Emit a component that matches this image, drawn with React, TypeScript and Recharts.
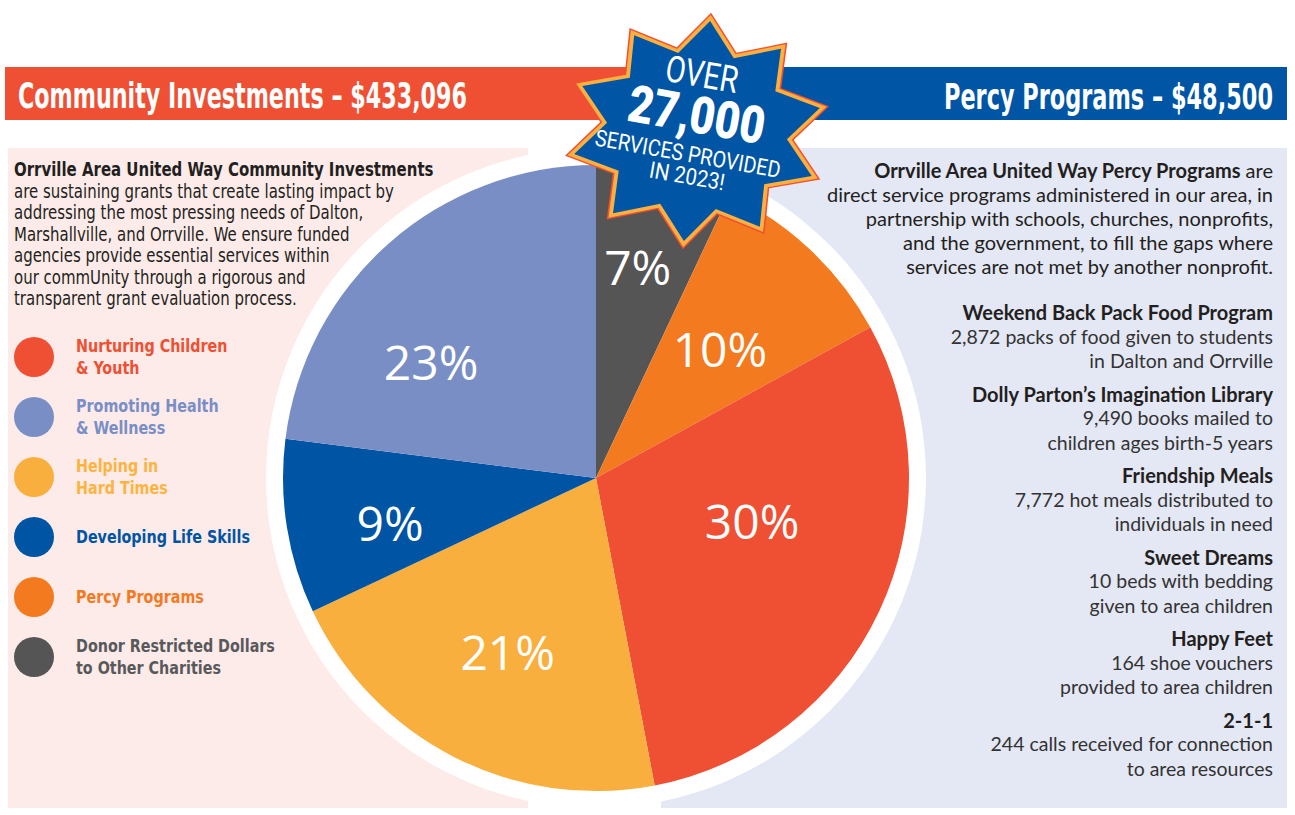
import { PieChart, Pie, Cell, Legend } from 'recharts'

// pie order, clockwise from 12 o'clock
const CATEGORIES = [
  'Donor Restricted Dollars to Other Charities',
  'Percy Programs',
  'Nurturing Children & Youth',
  'Helping in Hard Times',
  'Developing Life Skills',
  'Promoting Health & Wellness',
]
const SHARES = [7, 10, 30, 21, 9, 23]

const LEGEND_ORDER = [
  'Nurturing Children & Youth',
  'Promoting Health & Wellness',
  'Helping in Hard Times',
  'Developing Life Skills',
  'Percy Programs',
  'Donor Restricted Dollars to Other Charities',
]
const LEGEND_LINES: Record<string, string[]> = {
  'Nurturing Children & Youth': ['Nurturing Children', '& Youth'],
  'Promoting Health & Wellness': ['Promoting Health', '& Wellness'],
  'Helping in Hard Times': ['Helping in', 'Hard Times'],
  'Developing Life Skills': ['Developing Life Skills'],
  'Percy Programs': ['Percy Programs'],
  'Donor Restricted Dollars to Other Charities': ['Donor Restricted Dollars', 'to Other Charities'],
}

const LEFT_TITLE = 'Community Investments – $433,096'
const RIGHT_TITLE = 'Percy Programs – $48,500'

const LEFT_INTRO_BOLD = 'Orrville Area United Way Community Investments'
const LEFT_INTRO = [
  'are sustaining grants that create lasting impact by',
  'addressing the most pressing needs of Dalton,',
  'Marshallville, and Orrville.  We ensure funded',
  'agencies provide essential services within',
  'our commUnity through a rigorous and',
  'transparent grant evaluation process.',
]

const RIGHT_INTRO_BOLD = 'Orrville Area United Way Percy Programs'
const RIGHT_INTRO = [
  'direct service programs administered in our area, in',
  'partnership with schools, churches, nonprofits,',
  'and the government, to fill the gaps where',
  'services are not met by another nonprofit.',
]

const PROGRAMS = ['Weekend Back Pack Food Program', 'Dolly Parton’s Imagination Library', 'Friendship Meals', 'Sweet Dreams', 'Happy Feet', '2-1-1']
const PROGRAM_LINES = [
  ['2,872 packs of food given to students', 'in Dalton and Orrville'],
  ['9,490 books mailed to', 'children ages birth-5 years'],
  ['7,772 hot meals distributed to', 'individuals in need'],
  ['10 beds with bedding', 'given to area children'],
  ['164 shoe vouchers', 'provided to area children'],
  ['244 calls received for connection', 'to area resources'],
]

const COLORS: Record<string, string> = {
  'Donor Restricted Dollars to Other Charities': '#555555',
  'Percy Programs': '#F47A1F',
  'Nurturing Children & Youth': '#EF4F32',
  'Helping in Hard Times': '#F9AF3E',
  'Developing Life Skills': '#0054A4',
  'Promoting Health & Wellness': '#7A8EC6',
}
const LEGEND_TEXT: Record<string, string> = {
  'Donor Restricted Dollars to Other Charities': '#58595B',
  'Percy Programs': '#F47A1F',
  'Nurturing Children & Youth': '#EF4F32',
  'Helping in Hard Times': '#FDB43F',
  'Developing Life Skills': '#0054A4',
  'Promoting Health & Wellness': '#7A8EC6',
}

// label placement tweaks (radius fraction, clockwise shift in degrees)
const LABEL_ADJ = [
  { rf: 0.68, da: -1.3 },
  { rf: 0.565, da: 1.3 },
  { rf: 0.52, da: -8.8 },
  { rf: 0.63, da: -0.4 },
  { rf: 0.675, da: -4 },
  { rf: 0.64, da: -14 },
]

const W = 1295
const H = 815
const CX = 596
const CY = 478
const R = 313
const RAD = Math.PI / 180

const data = CATEGORIES.map((name, i) => ({ name, value: SHARES[i] }))

const renderLabel = (p: any) => {
  const adj = LABEL_ADJ[p.index]
  const a = (p.midAngle - adj.da) * RAD
  const r = p.outerRadius * adj.rf
  const x = p.cx + r * Math.cos(a)
  const y = p.cy - r * Math.sin(a)
  return (
    <text x={x} y={y - 3} textAnchor="middle" dominantBaseline="central" fill="#fff"
      style={{ fontFamily: '"Open Sans", sans-serif', fontSize: 48 }}>
      {p.value}%
    </text>
  )
}

const narrow = '"Liberation Sans Narrow", "DejaVu Sans Condensed", Roboto, sans-serif'
const dark = '#231F20'

const renderLegend = (props: any) => {
  const payload = props.payload || []
  const items = LEGEND_ORDER.map(n => payload.find((e: any) => e.value === n) || { value: n, color: COLORS[n] })
  return (
    <div>
      {items.map((e: any) => (
        <div key={e.value} style={{ display: 'flex', alignItems: 'center', height: 60 }}>
          <div style={{ width: 40, height: 40, borderRadius: 20, background: COLORS[e.value], flex: 'none' }} />
          <div style={{ marginLeft: 22, color: LEGEND_TEXT[e.value], fontFamily: narrow, fontWeight: 700, fontSize: 18.5, lineHeight: '22px', whiteSpace: 'nowrap', transform: 'scaleX(0.86)', transformOrigin: '0 50%' }}>
            {LEGEND_LINES[e.value].map(l => <div key={l}>{l}</div>)}
          </div>
        </div>
      ))}
    </div>
  )
}

function starPoints(cx: number, cy: number, rx: number, ry: number, inner: number, rot: number, s: number) {
  const pts: string[] = []
  for (let k = 0; k < 20; k++) {
    const a = (rot + k * 18) * RAD
    const f = k % 2 === 0 ? 1 : inner
    pts.push(`${(cx + Math.sin(a) * rx * f * s).toFixed(1)},${(cy - Math.cos(a) * ry * f * s).toFixed(1)}`)
  }
  return pts.join(' ')
}

export default function App() {
  const SX = 697
  const SY = 131
  return (
    <div style={{ position: 'absolute', left: 0, top: 0, width: W, height: H, background: '#fff', overflow: 'hidden' }}>
      {/* panels */}
      <div style={{ position: 'absolute', left: 8, top: 148, width: 520, height: 660, background: '#FCEBE9' }} />
      <div style={{ position: 'absolute', left: 661, top: 148, width: 626, height: 660, background: '#E4E7F4' }} />
      <div style={{ position: 'absolute', left: 5, top: 67, width: 700, height: 53, background: '#EF5033' }} />
      <div style={{ position: 'absolute', left: 700, top: 67, width: 587, height: 53, background: '#0055A5' }} />
      <div style={{ position: 'absolute', left: CX - 330, top: CY - 330, width: 660, height: 660, borderRadius: '50%', background: '#fff' }} />

      <div style={{ position: 'absolute', left: 0, top: 0 }}>
        <PieChart width={W} height={H} margin={{ top: 0, right: 0, bottom: 0, left: 0 }}>
          <Pie data={data} dataKey="value" nameKey="name" cx={CX} cy={CY} outerRadius={R}
            startAngle={90} endAngle={-270} stroke="none" label={renderLabel} labelLine={false}
            isAnimationActive={false}>
            {data.map(d => <Cell key={d.name} fill={COLORS[d.name]} />)}
          </Pie>
          <Legend layout="vertical" align="center" verticalAlign="middle" content={renderLegend}
            wrapperStyle={{ left: 14, top: 327, width: 320, height: 360 }} />
        </PieChart>
      </div>

      {/* header titles + burst */}
      <svg width={W} height={H} style={{ position: 'absolute', left: 0, top: 0, pointerEvents: 'none' }}>
        <text x={18} y={108} fill="#fff" textLength={449} lengthAdjust="spacingAndGlyphs"
          style={{ fontFamily: narrow, fontWeight: 700, fontSize: 36 }}>{LEFT_TITLE}</text>
        <text x={1273} y={109} fill="#fff" textAnchor="end" textLength={329} lengthAdjust="spacingAndGlyphs"
          style={{ fontFamily: narrow, fontWeight: 700, fontSize: 36 }}>{RIGHT_TITLE}</text>

        <polygon points={starPoints(SX, SY, 135, 119, 0.72, 6, 1)} fill="#EF5033" />
        <polygon points={starPoints(SX, SY, 135, 119, 0.72, 6, 0.98)} fill="#FBB040" />
        <polygon points={starPoints(SX, SY, 135, 119, 0.72, 6, 0.93)} fill="#0055A5" />
        <g transform={`translate(${SX},${SY}) rotate(10)`} fill="#fff" style={{ fontFamily: 'Roboto, sans-serif' }}>
          <text x={-5} y={-44} textAnchor="middle" textLength={73} lengthAdjust="spacingAndGlyphs" style={{ fontSize: 37 }}>OVER</text>
          <text x={-3} y={2} textAnchor="middle" textLength={138} lengthAdjust="spacingAndGlyphs" style={{ fontSize: 52, fontWeight: 900 }}>27,000</text>
          <text x={-5} y={32} textAnchor="middle" textLength={188} lengthAdjust="spacingAndGlyphs" style={{ fontSize: 23 }}>SERVICES PROVIDED</text>
          <text x={-2} y={54} textAnchor="middle" textLength={76} lengthAdjust="spacingAndGlyphs" style={{ fontSize: 23 }}>IN 2023!</text>
        </g>
      </svg>

      {/* left intro */}
      <div style={{ position: 'absolute', left: 14, top: 159, fontFamily: narrow, fontSize: 19, lineHeight: '21.5px', color: dark, whiteSpace: 'nowrap', transform: 'scaleX(0.875)', transformOrigin: '0 0' }}>
        <div style={{ fontWeight: 700 }}>{LEFT_INTRO_BOLD}</div>
        {LEFT_INTRO.map(l => <div key={l}>{l}</div>)}
      </div>

      {/* right intro */}
      <div style={{ position: 'absolute', right: W - 1273, top: 158, textAlign: 'right', fontFamily: 'Lato, sans-serif', fontSize: 20, lineHeight: '24px', color: dark, whiteSpace: 'nowrap' }}>
        <div><span style={{ fontWeight: 700 }}>{RIGHT_INTRO_BOLD}</span> are</div>
        {RIGHT_INTRO.map(l => <div key={l}>{l}</div>)}
      </div>

      {/* programs */}
      {PROGRAMS.map((p, i) => (
        <div key={p} style={{ position: 'absolute', right: W - 1273, top: 300 + i * 81.5, textAlign: 'right', fontFamily: 'Lato, sans-serif', fontSize: 19.5, lineHeight: '24.5px', color: dark, whiteSpace: 'nowrap' }}>
          <div style={{ fontWeight: 700, fontSize: 20 }}>{p}</div>
          {PROGRAM_LINES[i].map(l => <div key={l} style={{ fontWeight: 400, color: '#333' }}>{l}</div>)}
        </div>
      ))}
    </div>
  )
}
